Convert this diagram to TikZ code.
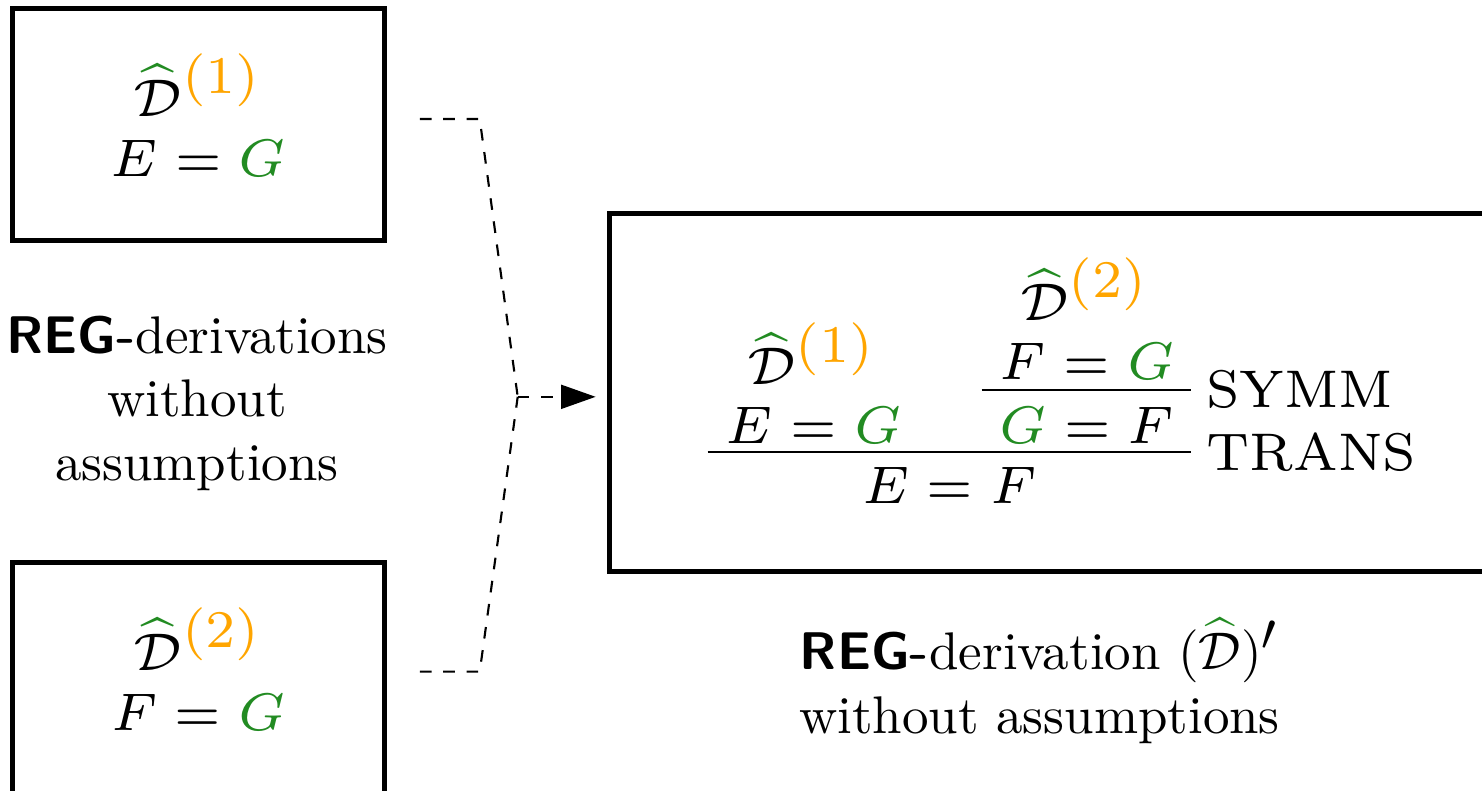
\documentclass[tikz,border=0pt]{standalone}
\usepackage{amsmath,amssymb}
\usepackage{tikz}
\usetikzlibrary{arrows.meta}
\usepackage{xcolor}
\definecolor{hatgreen}{RGB}{34,139,34}
\definecolor{supyellow}{RGB}{255,165,0}
\newcommand{\hatD}{{\color{hatgreen}\widehat{\color{black}\mathcal{D}}}}
\newcommand{\Dsup}[1]{\hatD^{\mbox{\color{supyellow}$(#1)$}}}
\newcommand{\gr}[1]{{\color{hatgreen}#1}}
\newcommand{\reg}{\textsf{\textbf{REG-}}}

\begin{document}
\begin{tikzpicture}[>=Latex,
    dbox/.style={draw, line width=0.9pt, minimum width=2.47cm, minimum height=1.54cm, inner sep=0pt},
    formula/.style={font=\scriptsize, scale=1.4286},
    joinline/.style={dash pattern=on 2.2pt off 2.2pt},
    rulelbl/.style={formula, anchor=west, inner sep=1.75pt}]
    \useasboundingbox (0,0) rectangle (9.83,-5.245);
    \clip (0,0) rectangle (9.83,-5.245);
    % the two derivations on the left
    \node[dbox] (top) at (1.316,-0.825) {};
    \node[formula, align=center] (topexpr) at (top.center) {$\Dsup{1}$\\$E = \gr{G}$\strut};
    \node[align=center] (lbl) at (1.306,-2.675) {\reg derivations\\without\\assumptions};
    \node[dbox] (bot) at (1.316,-4.50) {};
    \node[formula, align=center] (botexpr) at (bot.center) {$\Dsup{2}$\\$F = \gr{G}$\strut};
    % the combined derivation
    \node[draw, line width=0.9pt, minimum width=6cm, minimum height=2.374cm, inner sep=0pt] (proof) at (7.044,-2.603) {};
    \node[formula, anchor=base] (d1) at (5.387,-2.553) {$\Dsup{1}$};
    \node[formula, anchor=base] (eg) at (5.397,-2.939) {$E = \gr{G}$};
    \node[formula, anchor=base] (d2) at (7.197,-2.126) {$\Dsup{2}$};
    \node[formula, anchor=base] (fg) at (7.210,-2.515) {$F = \gr{G}$};
    \node[formula, anchor=base] (gf) at (7.210,-2.939) {$\gr{G} = F$};
    \node[formula, anchor=base] (ef) at (6.299,-3.342) {$E = F$};
    \coordinate (symmL) at (6.511,-2.586);
    \coordinate (symmR) at (7.903,-2.586);
    \coordinate (transL) at (4.694,-2.999);
    \coordinate (transR) at (7.903,-2.999);
    \draw (symmL) -- (symmR) node[rulelbl] (symm) {SYMM};
    \draw (transL) -- (transR) node[rulelbl] (trans) {TRANS};
    \node[align=center] (cap) at (6.895,-4.515) {\reg derivation $(\hatD)^{\mbox{$\prime$}}$\\without assumptions};
    % dashed joint
    \coordinate (fromtop) at (2.785,-0.789);
    \coordinate (kneetop) at (3.182,-0.789);
    \coordinate (join) at (3.434,-2.632);
    \coordinate (kneebot) at (3.182,-4.455);
    \coordinate (frombot) at (2.785,-4.455);
    \draw[joinline] (fromtop) -- (kneetop) -- (join);
    \draw[joinline] (frombot) -- (kneebot) -- (join);
    \draw[joinline, -{Triangle[length=6.5pt,width=4.5pt]}, shorten >=2.2pt] (join) -- (join -| proof.west);
\end{tikzpicture}
\end{document}
